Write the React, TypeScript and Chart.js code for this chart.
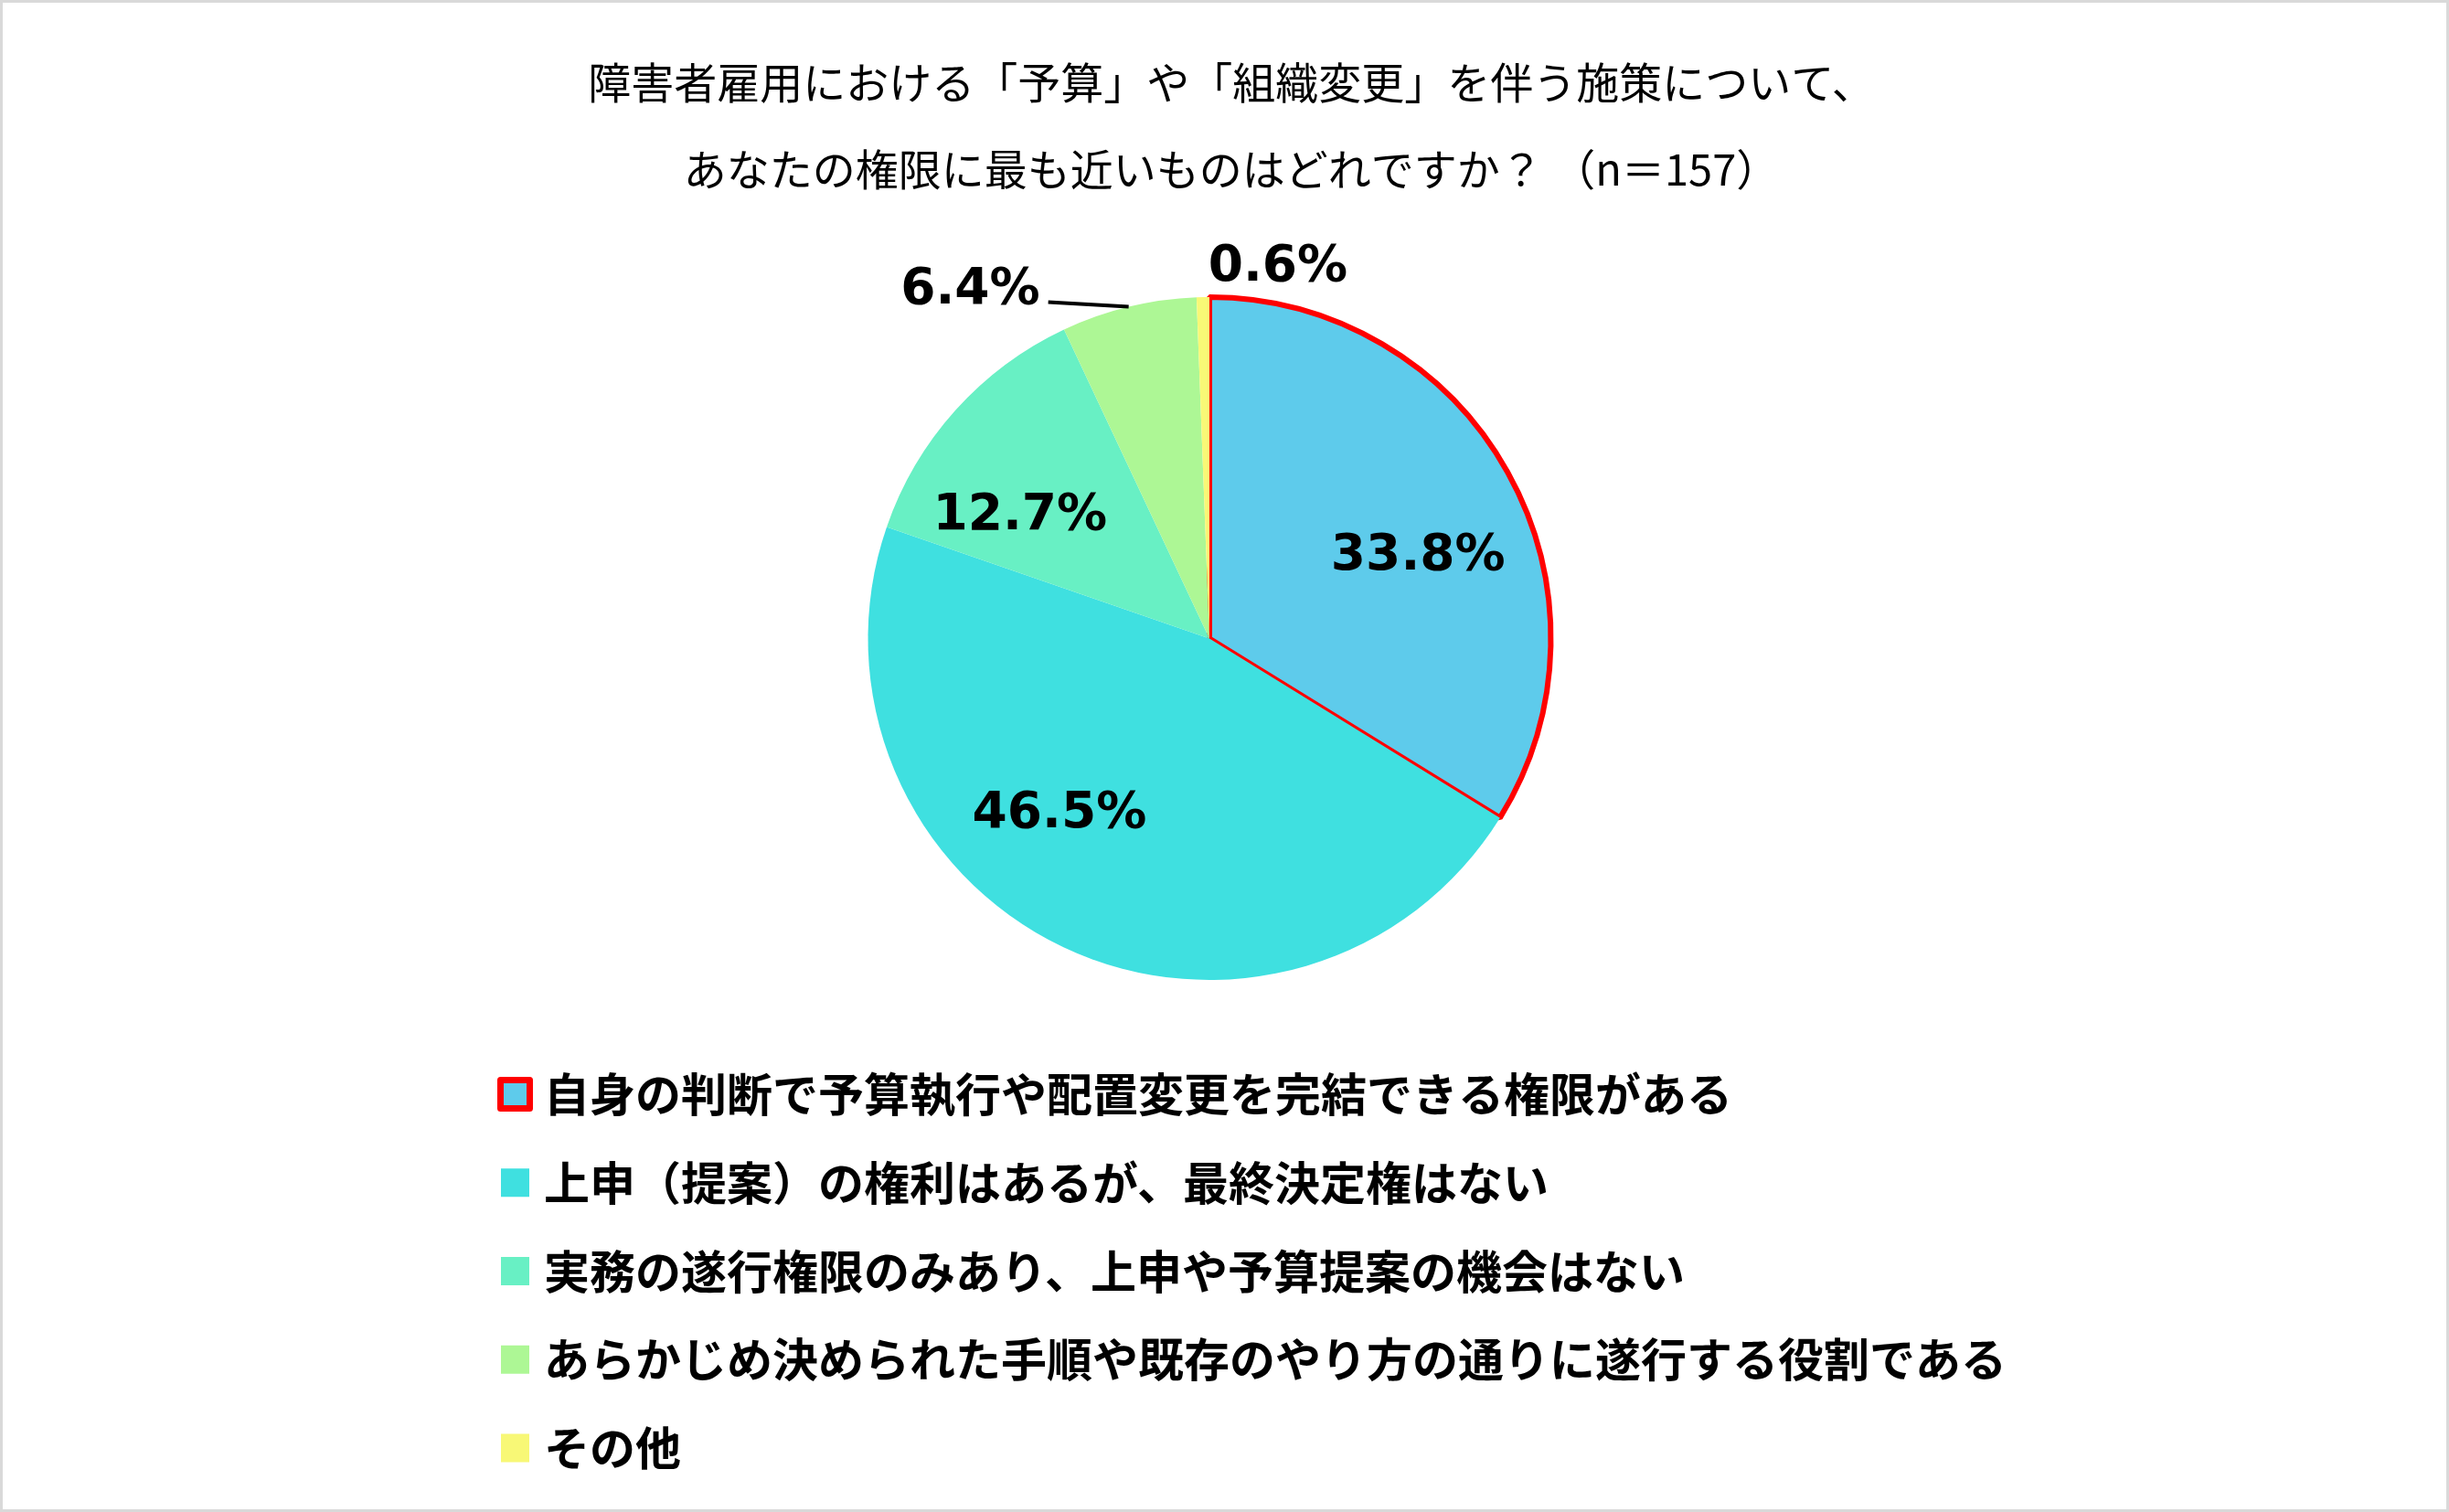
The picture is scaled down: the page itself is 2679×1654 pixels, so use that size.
import React, { useEffect, useRef } from "react";
import { Chart, registerables } from "chart.js";

Chart.register(...registerables);

// ---------- data ----------
const titleLines = [
  "障害者雇用における「予算」や「組織変更」を伴う施策について、",
  "あなたの権限に最も近いものはどれですか？ （n＝157）",
];
const categories = [
  "自身の判断で予算執行や配置変更を完結できる権限がある",
  "上申（提案）の権利はあるが、最終決定権はない",
  "実務の遂行権限のみあり、上申や予算提案の機会はない",
  "あらかじめ決められた手順や既存のやり方の通りに遂行する役割である",
  "その他",
];
const percentages = [33.8, 46.5, 12.7, 6.4, 0.6];
const sliceColors = ["#5ECBEB", "#3FE0E0", "#68F0C4", "#ADF795", "#F8F876"];
const sliceBorderColors = ["#FF0000", "#3FE0E0", "#68F0C4", "#ADF795", "#F8F876"];
const sliceBorderWidths = [6, 0, 0, 0, 0];

// ---------- layout / style ----------
const W = 2679;
const H = 1654;
const JP = '"Noto Sans CJK JP", "Noto Sans CJK SC", sans-serif';
const NUM = '"DejaVu Sans", Verdana, sans-serif';
const TITLE_SIZE = 47;
const TITLE_X = 1347;
const TITLE_Y0 = 90;
const TITLE_GAP = 95;
const LABEL_SIZE = 55;
const LEGEND_SIZE = 50;
const LEGEND_BOX_X = 548;
const LEGEND_BOX = 31;
const LEGEND_TEXT_X = 595;
const LEGEND_Y0 = 1197;
const LEGEND_GAP = 96.75;

type Placement = {
  outside: boolean;
  r: number;
  dx: number;
  dy: number;
  align: CanvasTextAlign;
  leader?: [number, number];
};
const labelPlacement: Placement[] = [
  { outside: false, r: 0.663, dx: 12, dy: 25, align: "center" },
  { outside: false, r: 0.663, dx: -58, dy: -37, align: "center" },
  { outside: false, r: 0.663, dx: -23, dy: 26, align: "center" },
  { outside: true, r: 1, dx: -97, dy: -24, align: "right", leader: [-88, -5] },
  { outside: true, r: 1, dx: 82, dy: -38, align: "center" },
];

const overlayPlugin = {
  id: "overlay",
  afterDatasetsDraw(chart: any) {
    const ctx: CanvasRenderingContext2D = chart.ctx;
    const meta = chart.getDatasetMeta(0);
    const ds = chart.data.datasets[0];
    ctx.save();

    // title
    ctx.fillStyle = "#000000";
    ctx.font = `${TITLE_SIZE}px ${JP}`;
    ctx.textAlign = "center";
    ctx.textBaseline = "middle";
    titleLines.forEach((t, i) => ctx.fillText(t, TITLE_X, TITLE_Y0 + i * TITLE_GAP));

    // data labels
    ctx.font = `bold ${LABEL_SIZE}px ${NUM}`;
    ctx.textBaseline = "alphabetic";
    meta.data.forEach((arc: any, i: number) => {
      const { x, y, startAngle, endAngle, outerRadius } = arc.getProps(
        ["x", "y", "startAngle", "endAngle", "outerRadius"],
        true
      );
      const p = labelPlacement[i];
      const mid = (startAngle + endAngle) / 2;
      const r = outerRadius * p.r;
      const ax = x + Math.cos(mid) * r;
      const ay = y + Math.sin(mid) * r;
      if (p.leader) {
        ctx.beginPath();
        ctx.strokeStyle = "#000000";
        ctx.lineWidth = 4;
        ctx.moveTo(ax, ay);
        ctx.lineTo(ax + p.leader[0], ay + p.leader[1]);
        ctx.stroke();
      }
      ctx.textAlign = p.align;
      ctx.fillStyle = "#000000";
      const v = chart.data.datasets[0].data[i] as number;
      ctx.fillText(`${v.toFixed(1)}%`, ax + p.dx, ay + p.dy + 0.3645 * LABEL_SIZE);
    });

    // legend
    ctx.font = `bold ${LEGEND_SIZE}px ${JP}`;
    ctx.textAlign = "left";
    ctx.textBaseline = "middle";
    (chart.data.labels as string[]).forEach((lab, i) => {
      const cy = LEGEND_Y0 + i * LEGEND_GAP;
      const bx = LEGEND_BOX_X;
      const by = cy - LEGEND_BOX / 2;
      ctx.fillStyle = ds.backgroundColor[i];
      ctx.fillRect(bx, by, LEGEND_BOX, LEGEND_BOX);
      if (ds.borderWidth[i] > 0) {
        ctx.strokeStyle = ds.borderColor[i];
        ctx.lineWidth = 7;
        ctx.lineJoin = "round";
        ctx.strokeRect(bx - 0.5, by, LEGEND_BOX + 1, LEGEND_BOX);
      }
      ctx.fillStyle = "#000000";
      ctx.fillText(lab, LEGEND_TEXT_X, cy);
    });

    ctx.restore();
  },
};

export default function App() {
  const canvasRef = useRef<HTMLCanvasElement | null>(null);

  useEffect(() => {
    const canvas = canvasRef.current;
    if (!canvas) return;
    const chart = new Chart(canvas, {
      type: "pie",
      data: {
        labels: categories,
        datasets: [
          {
            data: percentages,
            backgroundColor: sliceColors,
            borderColor: sliceBorderColors,
            borderWidth: sliceBorderWidths,
            borderAlign: "center",
          } as any,
        ],
      },
      options: {
        responsive: false,
        animation: false,
        devicePixelRatio: 1,
        layout: { padding: { left: 946.5, right: 979.5, top: 322, bottom: 579 } },
        plugins: {
          legend: { display: false },
          title: { display: false },
          tooltip: { enabled: false },
        },
        events: [],
      },
      plugins: [overlayPlugin],
    });
    const fonts: any = (document as any).fonts;
    if (fonts && fonts.load) {
      Promise.all([
        fonts.load(`${TITLE_SIZE}px "Noto Sans CJK JP"`, "障"),
        fonts.load(`bold ${LEGEND_SIZE}px "Noto Sans CJK JP"`, "自"),
        fonts.load(`bold ${LABEL_SIZE}px "DejaVu Sans"`, "0"),
      ])
        .then(() => chart.draw())
        .catch(() => {});
    }
    return () => chart.destroy();
  }, []);

  return (
    <div
      style={{
        position: "absolute",
        left: 0,
        top: 0,
        width: W,
        height: H,
        background: "#ffffff",
        overflow: "hidden",
      }}
    >
      <div
        style={{
          position: "absolute",
          left: 0,
          top: 0,
          width: W,
          height: H,
          boxSizing: "border-box",
          border: "3px solid #D9D9D9",
        }}
      />
      <canvas
        ref={canvasRef}
        width={W}
        height={H}
        style={{ position: "absolute", left: 0, top: 0, width: W, height: H }}
      />
    </div>
  );
}
